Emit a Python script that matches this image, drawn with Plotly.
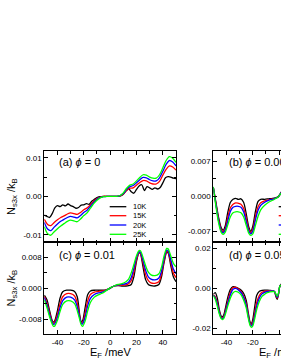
import plotly.graph_objects as go

# ---------------- data ----------------
temps = ["10K", "15K", "20K", "25K"]
colors = ["#000000", "#ff0000", "#0000ff", "#00ff00"]

# panel (a) phi = 0
xa = [-50, -47.5, -45, -42.5, -40, -37.5, -35, -32.5, -30, -27.5, -25, -22.5, -20, -17.5, -15,
      -12.5, -10, -7.5, -5, -2.5, 0, 2.5, 5, 7.5, 10, 12.5, 15, 17.5, 20, 22.5, 25, 27.5, 30,
      32.5, 35, 37.5, 40, 42.5, 45, 47.5, 50]
a_15 = [-0.0060, -0.0073, -0.0076, -0.0068, -0.0061, -0.0055, -0.0051, -0.0046, -0.0043, -0.0045,
        -0.0047, -0.0042, -0.0035, -0.0030, -0.0022, -0.0013, -0.0006, -0.0002, 0.0, 0.0, 0.0, 0.0,
        0.0, 0.0001, 0.0006, 0.0015, 0.0021, 0.0022, 0.0029, 0.0036, 0.0041, 0.0040, 0.0035,
        0.0032, 0.0032, 0.0039, 0.0055, 0.0070, 0.0079, 0.0076, 0.0068]
a_20 = [-0.0068, -0.0085, -0.0089, -0.0080, -0.0072, -0.0065, -0.0060, -0.0055, -0.0052, -0.0054,
        -0.0056, -0.0050, -0.0042, -0.0036, -0.0026, -0.0016, -0.0008, -0.0003, -0.0001, 0.0, 0.0,
        0.0, 0.0, 0.0002, 0.0007, 0.0018, 0.0025, 0.0028, 0.0035, 0.0043, 0.0049, 0.0048, 0.0043,
        0.0040, 0.0040, 0.0048, 0.0065, 0.0083, 0.0093, 0.0089, 0.0079]
a_25 = [-0.0079, -0.0097, -0.0101, -0.0092, -0.0084, -0.0077, -0.0071, -0.0065, -0.0062, -0.0064,
        -0.0066, -0.0059, -0.0050, -0.0043, -0.0031, -0.0019, -0.0010, -0.0004, -0.0001, 0.0, 0.0,
        0.0, 0.0, 0.0002, 0.0009, 0.0021, 0.0029, 0.0032, 0.0040, 0.0049, 0.0056, 0.0055, 0.0050,
        0.0047, 0.0047, 0.0056, 0.0074, 0.0093, 0.0103, 0.0099, 0.0088]
xa_10 = [-50, -48, -46, -44, -42, -40, -38, -36, -34, -32, -30, -28, -26, -24, -22, -20, -18, -16,
         -14, -12, -10, -8, -5, 0, 5, 8, 10, 12, 14, 16, 18, 20, 22, 24, 26, 28, 30, 32, 34, 36, 38,
         40, 42, 44, 46, 48, 50]
a_10 = [-0.0049, -0.0052, -0.0055, -0.0045, -0.0030, -0.0024, -0.0027, -0.0022, -0.0025, -0.0020,
        -0.0024, -0.0027, -0.0031, -0.0029, -0.0023, -0.0022, -0.0019, -0.0021, -0.0013, -0.0008,
        -0.0003, -0.0001, 0.0, 0.0, 0.0, 0.0001, 0.0005, 0.0014, 0.0020, 0.0012, 0.0008, 0.0018,
        0.0027, 0.0030, 0.0015, 0.0025, 0.0022, 0.0018, 0.0022, 0.0019, 0.0023, 0.0035, 0.0048,
        0.0051, 0.0050, 0.0047, 0.0046]

# panel (b) phi = 0.00x (right part cropped)
xb = [-50, -48, -46, -44, -42.5, -41, -39, -37, -35, -33, -31, -29, -27, -25, -23, -21.5, -20,
      -18, -16, -14, -11, -8, -5, -3, -1, 0, 1.5, 3]
b_10 = [0.0018, -0.0012, -0.0042, -0.0063, -0.0068, -0.0060, -0.0032, -0.0012, -0.0006, -0.0004,
        -0.0006, -0.0005, -0.0012, -0.0035, -0.0062, -0.0070, -0.0060, -0.0030, -0.0010, -0.0006,
        -0.0006, -0.0005, -0.0004, -0.0003, -0.0001, 0.0002, 0.0008, 0.0014]
b_15 = [0.0018, -0.0015, -0.0046, -0.0066, -0.0071, -0.0065, -0.0042, -0.0023, -0.0016, -0.0013,
        -0.0014, -0.0016, -0.0024, -0.0044, -0.0067, -0.0073, -0.0066, -0.0040, -0.0021, -0.0013,
        -0.0009, -0.0007, -0.0005, -0.0004, -0.0002, 0.0001, 0.0007, 0.0013]
b_20 = [0.0018, -0.0017, -0.0049, -0.0069, -0.0073, -0.0068, -0.0049, -0.0030, -0.0022, -0.0020,
        -0.0020, -0.0022, -0.0031, -0.0050, -0.0070, -0.0075, -0.0070, -0.0047, -0.0028, -0.0018,
        -0.0012, -0.0008, -0.0006, -0.0004, -0.0002, 0.0001, 0.0007, 0.0012]
b_25 = [0.0019, -0.0020, -0.0053, -0.0072, -0.0076, -0.0072, -0.0057, -0.0041, -0.0033, -0.0031,
        -0.0031, -0.0033, -0.0041, -0.0058, -0.0074, -0.0078, -0.0075, -0.0058, -0.0040, -0.0027,
        -0.0018, -0.0012, -0.0008, -0.0005, -0.0002, 0.0001, 0.0006, 0.0011]

# panel (c) phi = 0.01
xc = [-50, -48, -46, -44, -43, -42, -40, -38, -36, -33, -30, -27, -25, -23, -22, -21, -19, -17,
      -15, -12, -9, -6, -3, 0, 3, 6, 9, 12, 14, 16, 18, 20, 22, 23, 25, 27, 29, 31, 34, 37, 39, 41,
      43, 44, 46, 48, 50]
c_10 = [-0.0018, -0.0030, -0.0058, -0.0084, -0.0088, -0.0084, -0.0058, -0.0025, -0.0009, -0.0005,
        -0.0005, -0.0008, -0.0022, -0.0072, -0.0087, -0.0085, -0.0050, -0.0016, -0.0007, -0.0005,
        -0.0005, -0.0005, -0.0004, 0.0000, 0.0006, 0.0007, 0.0006, 0.0006, 0.0007, 0.0010, 0.0030,
        0.0070, 0.0093, 0.0090, 0.0055, 0.0022, 0.0010, 0.0007, 0.0006, 0.0010, 0.0030, 0.0068,
        0.0094, 0.0092, 0.0060, 0.0030, 0.0017]
c_15 = [-0.0021, -0.0038, -0.0064, -0.0086, -0.0091, -0.0088, -0.0068, -0.0040, -0.0022, -0.0014,
        -0.0014, -0.0020, -0.0038, -0.0075, -0.0089, -0.0090, -0.0065, -0.0032, -0.0016, -0.0010,
        -0.0008, -0.0007, -0.0004, 0.0001, 0.0006, 0.0008, 0.0008, 0.0009, 0.0012, 0.0020, 0.0042,
        0.0075, 0.0093, 0.0091, 0.0065, 0.0035, 0.0020, 0.0014, 0.0013, 0.0017, 0.0038, 0.0072,
        0.0096, 0.0094, 0.0068, 0.0040, 0.0028]
c_20 = [-0.0024, -0.0043, -0.0069, -0.0089, -0.0094, -0.0092, -0.0075, -0.0050, -0.0032, -0.0023,
        -0.0023, -0.0030, -0.0048, -0.0078, -0.0091, -0.0093, -0.0075, -0.0045, -0.0026, -0.0016,
        -0.0012, -0.0010, -0.0005, 0.0001, 0.0006, 0.0009, 0.0010, 0.0012, 0.0016, 0.0028, 0.0052,
        0.0080, 0.0095, 0.0094, 0.0072, 0.0046, 0.0030, 0.0024, 0.0022, 0.0027, 0.0045, 0.0078,
        0.0099, 0.0098, 0.0075, 0.0050, 0.0038]
c_25 = [-0.0030, -0.0050, -0.0074, -0.0093, -0.0099, -0.0098, -0.0083, -0.0060, -0.0042, -0.0033,
        -0.0033, -0.0040, -0.0058, -0.0083, -0.0095, -0.0099, -0.0085, -0.0058, -0.0037, -0.0023,
        -0.0017, -0.0013, -0.0006, 0.0001, 0.0006, 0.0010, 0.0012, 0.0017, 0.0024, 0.0040, 0.0062,
        0.0085, 0.0098, 0.0098, 0.0080, 0.0058, 0.0042, 0.0035, 0.0033, 0.0038, 0.0055, 0.0085,
        0.0104, 0.0103, 0.0085, 0.0065, 0.0056]

# panel (d) phi = 0.05 (right part cropped)
xd = [-50, -48.5, -47, -45.5, -44, -43, -42, -40.5, -39, -37, -35, -33, -31, -29, -27, -25, -23.5,
      -22, -21, -20, -18.5, -17, -15, -13, -11, -9, -7, -5, -3.5, -2.5, -1.5, -0.5, 0.5, 1.5, 3]
d_10 = [-0.0030, -0.0022, -0.0048, -0.0105, -0.0140, -0.0143, -0.0132, -0.0090, -0.0045, -0.0005,
        0.0008, 0.0006, 0.0000, -0.0008, -0.0025, -0.0060, -0.0120, -0.0170, -0.0175, -0.0155,
        -0.0090, -0.0035, -0.0015, -0.0010, -0.0009, -0.0009, -0.0010, -0.0012, -0.0018, -0.0040,
        -0.0055, -0.0030, 0.0010, 0.0020, 0.0025]
d_15 = [-0.0032, -0.0042, -0.0070, -0.0115, -0.0145, -0.0148, -0.0140, -0.0105, -0.0065, -0.0020,
        0.0004, 0.0005, -0.0003, -0.0015, -0.0038, -0.0075, -0.0130, -0.0175, -0.0182, -0.0170,
        -0.0120, -0.0070, -0.0035, -0.0020, -0.0015, -0.0013, -0.0012, -0.0012, -0.0016, -0.0035,
        -0.0050, -0.0028, 0.0010, 0.0018, 0.0023]
d_20 = [-0.0034, -0.0048, -0.0078, -0.0120, -0.0148, -0.0152, -0.0145, -0.0113, -0.0075, -0.0032,
        -0.0005, 0.0000, -0.0008, -0.0021, -0.0045, -0.0085, -0.0138, -0.0180, -0.0188, -0.0178,
        -0.0135, -0.0088, -0.0048, -0.0028, -0.0020, -0.0016, -0.0014, -0.0013, -0.0016, -0.0032,
        -0.0045, -0.0026, 0.0010, 0.0017, 0.0022]
d_25 = [-0.0036, -0.0055, -0.0088, -0.0127, -0.0152, -0.0156, -0.0150, -0.0122, -0.0088, -0.0048,
        -0.0022, -0.0015, -0.0020, -0.0032, -0.0058, -0.0098, -0.0148, -0.0187, -0.0195, -0.0188,
        -0.0150, -0.0105, -0.0065, -0.0040, -0.0030, -0.0022, -0.0018, -0.0016, -0.0017, -0.0028,
        -0.0040, -0.0024, 0.0010, 0.0016, 0.0021]

# tick labels
x_tickvals = [-40, -20, 0, 20, 40]
x_ticktext = ["-40", "-20", "0", "20", "40"]
ya_tickvals = [-0.01, 0.0, 0.01]
ya_ticktext = ["-0.01", "0.00", "0.01"]
yb_tickvals = [-0.007, 0.0, 0.007]
yb_ticktext = ["-0.007", "0.000", "0.007"]
yc_tickvals = [-0.008, 0.0, 0.008]
yc_ticktext = ["-0.008", "0.000", "0.008"]
yd_tickvals = [-0.02, 0.0, 0.02]
yd_ticktext = ["-0.02", "0.00", "0.02"]
panel_labels = ["(a) <i>ϕ</i> = 0", "(b) <i>ϕ</i> = 0.005", "(c) <i>ϕ</i> = 0.01", "(d) <i>ϕ</i> = 0.05"]

# ---------------- figure ----------------
W, H = 281, 363
FONT = "Arial, Liberation Sans, sans-serif"
fig = go.Figure()

panels = [
    ("x", "y", [(xa_10, a_10), (xa, a_15), (xa, a_20), (xa, a_25)]),
    ("x2", "y2", [(xb, b_10), (xb, b_15), (xb, b_20), (xb, b_25)]),
    ("x3", "y3", [(xc, c_10), (xc, c_15), (xc, c_20), (xc, c_25)]),
    ("x4", "y4", [(xd, d_10), (xd, d_15), (xd, d_20), (xd, d_25)]),
]
for xr, yr, series in panels:
    for (xs, ys), col, name in zip(series, colors, temps):
        fig.add_trace(go.Scatter(x=xs, y=ys, mode="lines", xaxis=xr, yaxis=yr, name=name,
                                 showlegend=False,
                                 line=dict(color=col, width=1.3, shape="spline", smoothing=0.8),
                                 cliponaxis=True))

px_per_mev = 131.7 / 100.0
left_dom = [44.3 / W, 176.0 / W]
right_dom = [213.3 / W, 1.0]
right_end = -50 + (W - 213.3) / px_per_mev
top_dom = [1 - 242.0 / H, 1 - 151.0 / H]
bot_dom = [1 - 334.0 / H, 1 - 242.0 / H]

def xax(dom, rng, labels, anchor, mirror):
    return dict(domain=dom, range=rng, anchor=anchor, showgrid=False, zeroline=False,
                showline=True, linecolor="black", linewidth=1, mirror=mirror,
                ticks="inside", ticklen=4, tickwidth=1, tickcolor="black",
                tickmode="array", tickvals=x_tickvals, ticktext=x_ticktext,
                showticklabels=labels, tickfont=dict(family=FONT, size=8, color="black"),
                minor=dict(ticks="inside", ticklen=2.5, tickwidth=1, tickcolor="black",
                           tickmode="linear", tick0=-50, dtick=10),
                fixedrange=True)

def yax(dom, rng, tv, tt, anchor, mirror):
    step = tv[1] - tv[0]
    return dict(domain=dom, range=rng, anchor=anchor, showgrid=False, zeroline=False,
                showline=True, linecolor="black", linewidth=1, mirror=mirror,
                ticks="inside", ticklen=4, tickwidth=1, tickcolor="black",
                tickmode="array", tickvals=tv, ticktext=tt,
                tickfont=dict(family=FONT, size=8, color="black"),
                minor=dict(ticks="inside", ticklen=2.5, tickwidth=1, tickcolor="black",
                           tickmode="linear", tick0=0, dtick=step / 2),
                fixedrange=True)

fig.update_layout(
    width=W, height=H, margin=dict(l=0, r=0, t=0, b=0),
    paper_bgcolor="white", plot_bgcolor="white", showlegend=False,
    xaxis=xax(left_dom, [-50, 50], False, "y", "ticks"),
    yaxis=yax(top_dom, [-0.01187, 0.01177], ya_tickvals, ya_ticktext, "x", "ticks"),
    xaxis2=xax(right_dom, [-50, right_end], False, "y2", "ticks"),
    yaxis2=yax(top_dom, [-0.00914, 0.00906], yb_tickvals, yb_ticktext, "x2", False),
    xaxis3=xax(left_dom, [-50, 50], True, "y3", "ticks"),
    yaxis3=yax(bot_dom, [-0.0119, 0.01206], yc_tickvals, yc_ticktext, "x3", "ticks"),
    xaxis4=xax(right_dom, [-50, right_end], True, "y4", "ticks"),
    yaxis4=yax(bot_dom, [-0.02285, 0.02315], yd_tickvals, yd_ticktext, "x4", False),
)

ann = []
# panel labels
for txt, xp, yp in zip(panel_labels, [56.7, 226.7, 56.7, 226.7], [161.7, 161.7, 254.7, 254.7]):
    ann.append(dict(text=txt, x=xp / W, y=1 - yp / H, xref="paper", yref="paper",
                    xanchor="left", yanchor="middle", showarrow=False,
                    font=dict(family=FONT, size=11, color="black")))
# y titles
for yp in [196.5, 288.0]:
    ann.append(dict(text="N<sub>s3x</sub> /k<sub>B</sub>", x=11.5 / W, y=1 - yp / H,
                    xref="paper", yref="paper", textangle=-90, showarrow=False,
                    xanchor="center", yanchor="middle",
                    font=dict(family=FONT, size=11, color="black")))
# x titles
for xp in [110.0, 279.2]:
    ann.append(dict(text="E<sub>F</sub> /meV", x=xp / W, y=1 - 352.5 / H,
                    xref="paper", yref="paper", showarrow=False,
                    xanchor="center", yanchor="middle",
                    font=dict(family=FONT, size=11, color="black")))

# legends (panel a fully visible; panel b cropped at the right edge)
shapes = []
rows = [206.7, 215.7, 225.0, 234.3]
for x0 in [109.7, 278.7]:
    for yrow, col, name in zip(rows, colors, temps):
        shapes.append(dict(type="line", xref="paper", yref="paper",
                           x0=x0 / W, x1=(x0 + 16.6) / W, y0=1 - yrow / H, y1=1 - yrow / H,
                           line=dict(color=col, width=1.3)))
        ann.append(dict(text=name, x=(x0 + 21) / W, y=1 - yrow / H, xref="paper", yref="paper",
                        xanchor="left", yanchor="middle", showarrow=False,
                        font=dict(family=FONT, size=7.5, color="black")))

fig.update_layout(annotations=ann, shapes=shapes)

fig.write_html("out.html", config={"displayModeBar": False, "staticPlot": True},
               post_script="document.body.style.margin='0';document.body.style.overflow='hidden';")
